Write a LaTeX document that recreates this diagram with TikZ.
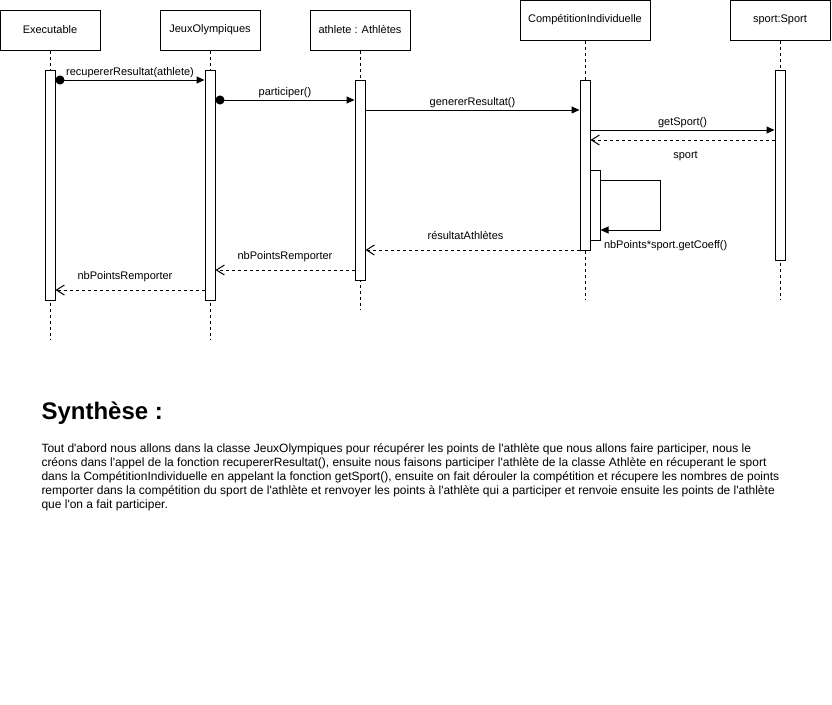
\documentclass[tikz,border=0pt]{standalone}
\usepackage{fontspec}
\newfontfamily\umlfont{Liberation Sans}
\usetikzlibrary{arrows.meta}
\tikzset{
	head/.style={draw,fill=white,minimum width=100pt,minimum height=40pt,inner sep=0pt},
	bar/.style={draw,fill=white,minimum width=10pt,inner sep=0pt},
	life/.style={dash pattern=on 3pt off 3pt},
	call/.style={-{Triangle[length=8pt,width=7pt]}},
	found/.style={{Circle[length=9pt]}-{Triangle[length=8pt,width=7pt]}},
	reply/.style={dash pattern=on 3pt off 3pt,-{Straight Barb[length=8pt,width=10pt]}},
	lbl/.style={anchor=base,inner sep=0pt}
}
\begin{document}
\begin{tikzpicture}[x=1pt,y=-1pt,line width=1pt,font=\umlfont\fontsize{11}{13}\selectfont]
		\useasboundingbox (0,0) rectangle (832,704);
		%objects
		\node[head] (exe) at (50,30) {Executable};
		\node[head] (jo) at (210,30) {JeuxOlympiques};
		\node[head] (ath) at (360,30) {athlete : Athlètes};
		\node[head,minimum width=130pt] (comp) at (585,20) {CompétitionIndividuelle};
		\node[head] (spo) at (780,20) {sport:Sport};
		%lifelines
		\draw[life] (exe.south) -- (exe.south |- 0,340);
		\draw[life] (jo.south) -- (jo.south |- 0,340);
		\draw[life] (ath.south) -- (ath.south |- 0,310);
		\draw[life] (comp.south) -- (comp.south |- 0,300);
		\draw[life] (spo.south) -- (spo.south |- 0,300);
		%activations
		\node[bar,minimum height=230pt] (exeB) at (50,185) {};
		\node[bar,minimum height=230pt] (joB) at (210,185) {};
		\node[bar,minimum height=200pt] (athB) at (360,180) {};
		\node[bar,minimum height=170pt] (compB) at (585,165) {};
		\node[bar,minimum height=190pt] (spoB) at (780,165) {};
		\node[bar,minimum height=70pt] (selfB) at (595,205) {};
		%messages
		\draw[found] (exeB.east |- 0,80) -- node[lbl,yshift=5pt]{recupererResultat(athlete)} (joB.west |- 0,80);
		\draw[found] (joB.east |- 0,100) -- node[lbl,yshift=5pt]{participer()} (athB.west |- 0,100);
		\draw[call] (athB.east |- 0,110) -- node[lbl,yshift=5pt]{genererResultat()} (compB.west |- 0,110);
		\draw[call] (compB.east |- 0,130) -- node[lbl,yshift=5pt]{getSport()} (spoB.west |- 0,130);
		\draw[reply] (spoB.west |- 0,140) -- node[lbl,xshift=3pt,yshift=-18pt]{sport} (compB.east |- 0,140);
		\draw[call] (selfB.east |- 0,180) -- ++(60,0) |- (selfB.east |- 0,230)
			node[lbl,anchor=base west,xshift=3pt,yshift=-18pt]{nbPoints*sport.getCoeff()};
		%replies
		\draw[reply] (compB.west |- 0,250) -- node[lbl,xshift=-7pt,yshift=11pt]{résultatAthlètes} (athB.east |- 0,250);
		\draw[reply] (athB.west |- 0,270) -- node[lbl,yshift=11pt]{nbPointsRemporter} (joB.east |- 0,270);
		\draw[reply] (joB.west |- 0,290) -- node[lbl,xshift=-5pt,yshift=11pt]{nbPointsRemporter} (exeB.east |- 0,290);
		%summary
		\node[anchor=base west,inner sep=0pt,font=\umlfont\bfseries\fontsize{24}{28}\selectfont] (synth) at (41,419) {Synthèse :};
		\foreach \ln [count=\i from 0] in {%
			{Tout d'abord nous allons dans la classe JeuxOlympiques pour récupérer les points de l'athlète que nous allons faire participer, nous le},%
			{créons dans l'appel de la fonction recupererResultat(), ensuite nous faisons participer l'athlète de la classe Athlète en récuperant le sport},%
			{dans la CompétitionIndividuelle en appelant la fonction getSport(), ensuite on fait dérouler la compétition et récupere les nombres de points},%
			{remporter dans la compétition du sport de l'athlète et renvoyer les points à l'athlète qui a participer et renvoie ensuite les points de l'athlète},%
			{que l'on a fait participer.}}
		\node[anchor=base west,inner sep=0pt,font=\umlfont\fontsize{12}{14}\selectfont] (txt\i) at (41,452.5+14.1*\i) {\ln};
\end{tikzpicture}
\end{document}
